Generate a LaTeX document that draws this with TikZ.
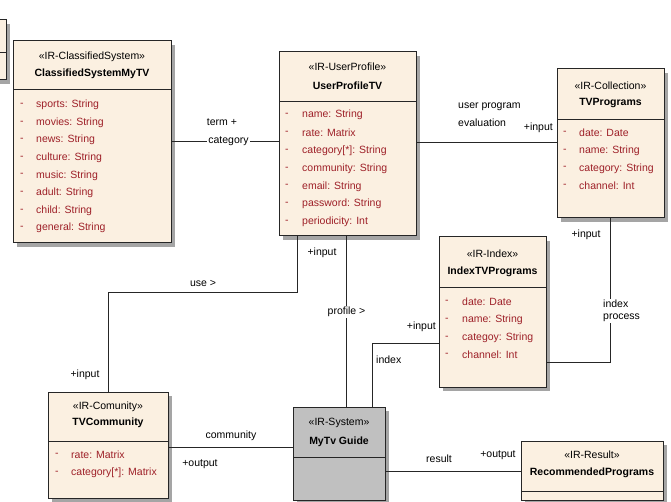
\documentclass[tikz,border=0pt]{standalone}
\usepackage{fontspec}
\setmainfont{Liberation Sans}
\usetikzlibrary{calc}
\definecolor{boxfill}{RGB}{251,240,225}
\definecolor{attrred}{RGB}{158,32,40}
\definecolor{sysfill}{RGB}{192,192,192}
\definecolor{shadecol}{RGB}{165,165,165}

% \umlclass{name}{x1}{y1}{x2}{y2}{divider y}{fill colour}
\newcommand\umlclass[7]{%
  \fill[shadecol] (#2+4,#3+4) rectangle (#4+4,#5+4);
  \node[classframe, fill=#7, anchor=north west,
        minimum width=#4-#2, minimum height=#5-#3] (#1) at (#2,#3) {};
  \draw[frameline] (#2,#6) -- (#4,#6);
}
% \umlattrs{dash x}{text x}{first y}{step}{list}
\newcommand\umlattrs[5]{%
  \foreach \txt [count=\i from 0] in {#5} {
    \node[attrtext] at (#1,#3+#4*\i) {-};
    \node[attrtext] at (#2,#3+#4*\i) {\txt};
  }
}

\begin{document}
\begin{tikzpicture}[x=1pt,y=-1pt,
  font=\fontsize{10.5}{12.5}\selectfont,
  classframe/.style={draw=black!85, line width=1pt, inner sep=0pt, outer sep=0pt},
  frameline/.style={draw=black!85, line width=1pt},
  stereo/.style={inner sep=0pt},
  cname/.style={inner sep=0pt, font=\fontsize{10.5}{12.5}\selectfont\bfseries},
  attrtext/.style={anchor=west, inner sep=0pt, text=attrred},
  assoc/.style={draw=black!85, line width=1pt},
  lbl/.style={inner sep=1pt},
  lblw/.style={inner sep=1pt, fill=white}]
\useasboundingbox (0,0) rectangle (671,502);

% ---- classes ----
\umlclass{part}{-10}{20}{6}{80}{53}{boxfill}

\umlclass{cls}{13}{41}{171}{243}{90}{boxfill}
\node[stereo] at (92,57) {«IR-ClassifiedSystem»};
\node[cname] at (92,74) {ClassifiedSystemMyTV};
\umlattrs{20}{36}{105}{17.6}{sports:  String, movies:  String, news:  String,
  culture:  String, music:  String, adult:  String, child:  String, general:  String}

\umlclass{up}{279}{52}{416}{236}{102}{boxfill}
\node[stereo] at (347.5,67) {«IR-UserProfile»};
\node[cname] at (347.5,86) {UserProfileTV};
\umlattrs{285}{302}{115}{17.85}{name:  String, rate:  Matrix, {category[*]:  String},
  community:  String, email:  String, password:  String, periodicity:  Int}

\umlclass{tvp}{557}{69}{664}{218}{120}{boxfill}
\node[stereo] at (610.5,86) {«IR-Collection»};
\node[cname] at (610.5,103) {TVPrograms};
\umlattrs{563}{579}{133}{17.7}{date:  Date, name:  String, category:  String, channel:  Int}

\umlclass{idx}{439}{237}{546}{387}{287}{boxfill}
\node[stereo] at (492.5,254) {«IR-Index»};
\node[cname] at (492.5,272) {IndexTVPrograms};
\umlattrs{445}{462}{302}{17.7}{date:  Date, name:  String, categoy:  String, channel:  Int}

\umlclass{com}{48}{392}{168}{498}{441}{boxfill}
\node[stereo] at (108,407) {«IR-Comunity»};
\node[cname] at (108,423) {TVCommunity};
\umlattrs{55}{71}{455}{18}{rate:  Matrix, {category[*]:  Matrix}}

\umlclass{sys}{293}{407}{385}{500}{457}{sysfill}
\node[stereo] at (339,423) {«IR-System»};
\node[cname] at (339,442) {MyTv Guide};

\umlclass{res}{521}{441}{663}{500}{491}{boxfill}
\node[stereo] at (592,455) {«IR-Result»};
\node[cname] at (592,473) {RecommendedPrograms};

% ---- associations ----
\draw[assoc] (cls.east |- 0,142) -- (up.west |- 0,142);
\node[lbl] at (222,122) {term +};
\node[lblw] at (228.5,141) {category};

\draw[assoc] (up.east |- 0,143) -- (tvp.west |- 0,143);
\node[lbl, anchor=west] at (457,107) {user program};
\node[lbl, anchor=west] at (457,123) {evaluation};
\node[lbl, anchor=east] at (554,128) {+input};

\draw[assoc] (up.south -| 297,0) -- (297,292) -- (108,292) -- (com.north -| 108,0);
\node[lbl] at (203,283) {use >};
\node[lbl] at (322,253) {+input};
\node[lbl] at (85,375) {+input};

\draw[assoc] (up.south -| 346,0) -- (sys.north -| 346,0);
\node[lblw] at (346.5,312) {profile >};

\draw[assoc] (sys.north -| 372,0) -- (372,343) -- (idx.west |- 0,343);
\node[lbl, anchor=west] at (375,360) {index};
\node[lbl, anchor=east] at (437,327) {+input};

\draw[assoc] (tvp.south -| 610,0) -- (610,362) -- (idx.east |- 0,362);
\node[lblw, align=left, anchor=west] at (602,311) {index\\process};
\node[lbl] at (586,235) {+input};

\draw[assoc] (com.east |- 0,447) -- (sys.west |- 0,447);
\node[lbl] at (231,436) {community};
\node[lbl] at (200,464) {+output};

\draw[assoc] (sys.east |- 0,471) -- (res.west |- 0,471);
\node[lbl] at (439,459) {result};
\node[lbl] at (498,455) {+output};
\end{tikzpicture}
\end{document}
